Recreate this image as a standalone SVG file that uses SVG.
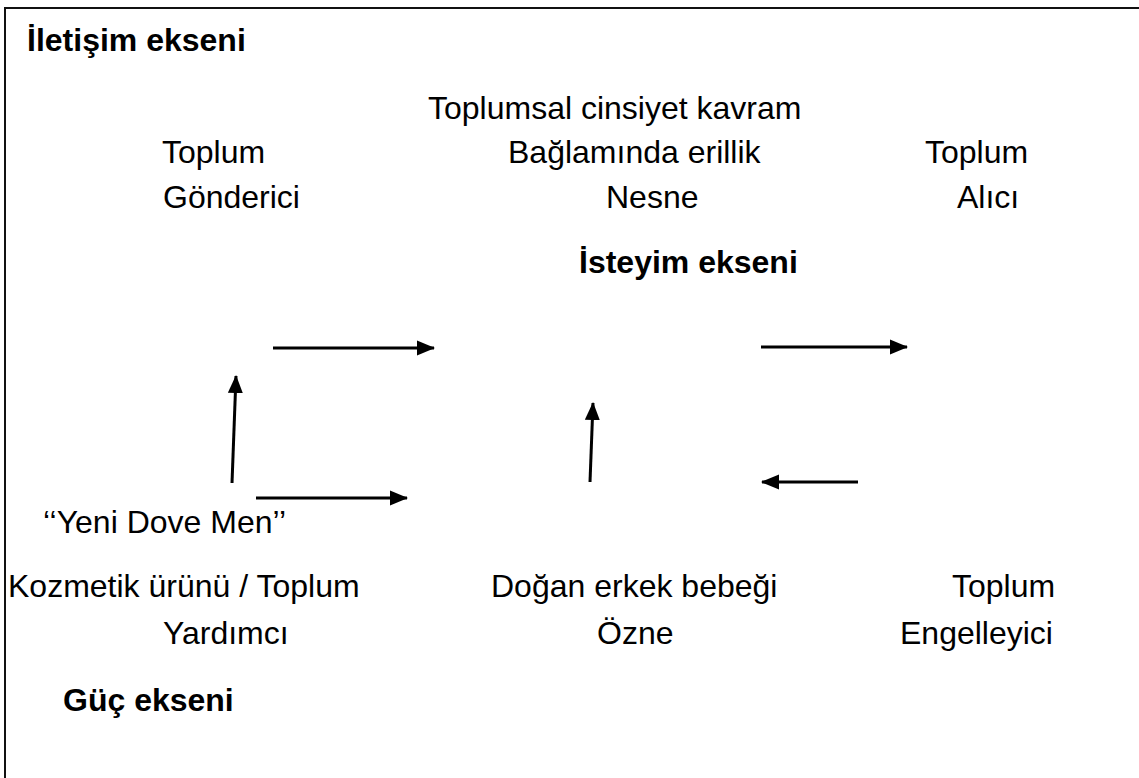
<svg xmlns="http://www.w3.org/2000/svg" width="1139" height="778" viewBox="0 0 1139 778">
<defs>
<style>
text{font-family:"Liberation Sans",Arial,sans-serif;font-size:32px;fill:#000}
.b{font-weight:bold}
.c{stroke:#000;stroke-width:3;fill:none;marker-end:url(#ah)}
</style>
<marker id="ah" markerUnits="userSpaceOnUse" markerWidth="18" markerHeight="18" viewBox="0 0 18 18" refX="17" refY="9" orient="auto">
<path d="M0,1.5 L18,9 L0,16.5 Z" fill="#000"/>
</marker>
</defs>
<rect x="0" y="0" width="1139" height="778" fill="#fff"/>
<rect id="frame" x="5" y="8" width="1200" height="900" fill="none" stroke="#111" stroke-width="2"/>
<g id="titles">
<text class="b" x="27" y="51">İletişim ekseni</text>
<text x="428" y="119">Toplumsal cinsiyet kavram</text>
<text class="b" x="579" y="273">İsteyim ekseni</text>
<text class="b" x="63" y="711">Güç ekseni</text>
</g>
<g id="gonderici"><text x="162" y="163">Toplum</text><text x="163" y="208">Gönderici</text></g>
<g id="nesne"><text x="508" y="163">Bağlamında erillik</text><text x="606" y="208">Nesne</text></g>
<g id="alici"><text x="925" y="163">Toplum</text><text x="957" y="208">Alıcı</text></g>
<g id="yardimci"><text x="43" y="533">‘‘Yeni Dove Men’’</text><text x="8" y="597">Kozmetik ürünü / Toplum</text><text x="163" y="644">Yardımcı</text></g>
<g id="ozne"><text x="491" y="597">Doğan erkek bebeği</text><text x="597" y="644">Özne</text></g>
<g id="engelleyici"><text x="952" y="597">Toplum</text><text x="900" y="644">Engelleyici</text></g>
<g id="connectors">
<line class="c" x1="273" y1="348" x2="434" y2="348"/>
<line class="c" x1="761" y1="347" x2="907" y2="347"/>
<line class="c" x1="232" y1="483" x2="236" y2="376"/>
<line class="c" x1="256" y1="498" x2="407" y2="498"/>
<line class="c" x1="590" y1="482" x2="593" y2="403"/>
<line class="c" x1="858" y1="482" x2="762" y2="482"/>
</g>
</svg>
